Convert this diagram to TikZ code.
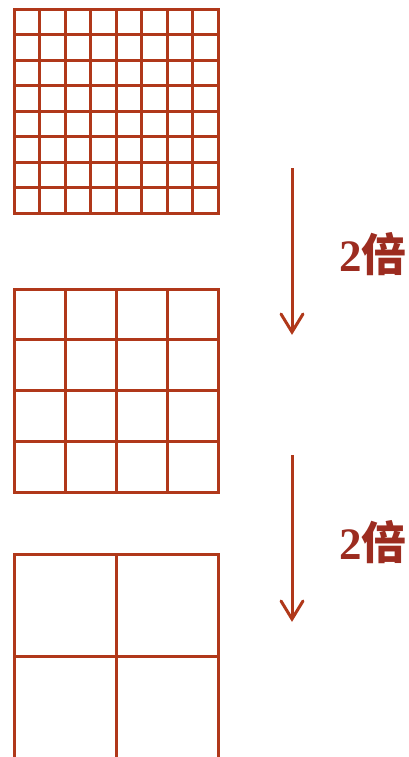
\documentclass[tikz,border=0pt]{standalone}
\usepackage{fontspec}
\newfontfamily\cjk{Noto Sans CJK SC}
\setmainfont{Liberation Serif}
\definecolor{gridred}{HTML}{B0381A}
\definecolor{textred}{HTML}{9C2C20}
\tikzset{
  gridline/.style={draw=gridred, line width=3pt, line cap=rect},
  shaft/.style={draw=gridred, line width=3pt},
  barb/.style={draw=gridred, line width=3pt, line cap=round, line join=miter},
  factor/.style={text=textred, font=\fontsize{45}{47}\selectfont\bfseries, inner sep=0pt}
}
\newcommand{\mygrid}[5]{% x0,y0,width,n,height
  \foreach \i in {0,...,#4}{
    \draw[gridline] ({#1+\i*#3/#4},#2) -- ({#1+\i*#3/#4},{#2+#5});
    \draw[gridline] (#1,{#2+\i*#5/#4}) -- ({#1+#3},{#2+\i*#5/#4});
  }
}
\begin{document}
\begin{tikzpicture}[x=1pt,y=-1pt]
\useasboundingbox (0,0) rectangle (409,757);
% top 8x8 grid
\mygrid{14}{9.5}{204}{8}{203.5}
% middle 4x4 grid
\mygrid{14}{289}{204}{4}{203.5}
% bottom 2x2 grid
\mygrid{14}{554}{204}{2}{204}
% arrows
\coordinate (a1s) at (292,168);
\coordinate (a1e) at (292,332);
\coordinate (a2s) at (292,455);
\coordinate (a2e) at (292,619);
\draw[shaft] (a1s) -- (a1e);
\draw[barb] (a1e) ++(-11,-18) -- (a1e) -- ++(11,-18);
\draw[shaft] (a2s) -- (a2e);
\draw[barb] (a2e) ++(-11,-18) -- (a2e) -- ++(11,-18);
\node[factor, anchor=west] (f1) at (339,254) {2{\cjk 倍}};
\node[factor, anchor=west] (f2) at (339,542) {2{\cjk 倍}};
\end{tikzpicture}
\end{document}
